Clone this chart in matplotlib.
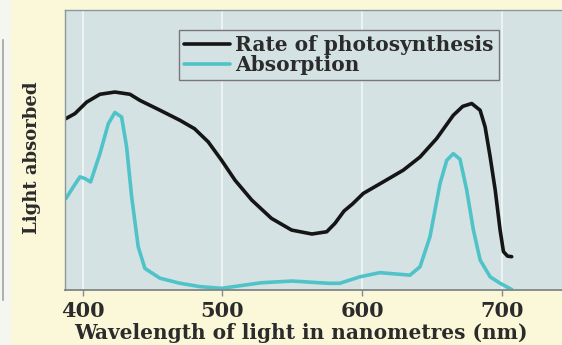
import matplotlib
matplotlib.use("Agg")
import matplotlib.pyplot as plt
from matplotlib.lines import Line2D
from matplotlib.patches import Rectangle

# Action spectrum of photosynthesis vs. absorption spectrum (relative units, 0-100)
wavelength_photo = [387.9, 394.4, 402.8, 412.3, 423.0, 433.8, 441.0, 455.3, 469.6, 480.0,
                    489.8, 499.4, 509.0, 521.0, 535.0, 549.5, 564.0, 574.6, 580.5, 587.0,
                    593.0, 600.8, 615.0, 629.4, 641.4, 653.3, 665.2, 672.0, 678.4, 684.4,
                    688.0, 691.6, 695.2, 698.7, 701.1, 704.0, 707.0]
rate_photo = [61.2, 63.0, 67.1, 69.9, 70.7, 69.9, 67.7, 64.2, 60.6, 57.6,
              52.9, 46.3, 39.2, 32.1, 25.6, 21.4, 20.0, 20.8, 23.8, 28.2,
              30.7, 34.5, 38.6, 42.8, 47.5, 54.1, 62.4, 65.6, 66.6, 64.2,
              58.2, 47.5, 35.7, 21.4, 13.7, 12.1, 11.9]

wavelength_abs = [388.0, 393.2, 398.0, 401.6, 405.6, 412.3, 418.3, 423.0, 427.8, 431.4,
                  435.0, 439.7, 444.5, 455.3, 469.6, 484.0, 499.4, 528.0, 550.0, 575.7,
                  584.0, 598.3, 612.6, 624.6, 634.2, 641.4, 648.5, 655.7, 660.5, 665.2,
                  670.0, 674.8, 679.6, 684.4, 691.6, 698.7, 707.0]
absorption = [32.7, 36.8, 40.4, 39.8, 38.6, 48.7, 59.4, 63.4, 61.8, 51.1,
              33.3, 15.4, 7.7, 4.2, 2.4, 1.2, 0.6, 2.6, 3.2, 2.4,
              2.4, 4.7, 6.2, 5.7, 5.3, 8.3, 19.0, 38.0, 46.3, 48.7,
              46.7, 35.7, 21.4, 10.7, 4.7, 2.4, 0.2]

xticks = [400, 500, 600, 700]
series_labels = ["Rate of photosynthesis", "Absorption"]
x_label = "Wavelength of light in nanometres (nm)"
y_label = "Light absorbed"

W, H = 562, 345
fig = plt.figure(figsize=(W / 100, H / 100), dpi=100)
fig.patch.set_facecolor("#fbf7d9")

# pale margin strip with the edge of the neighbouring panel frame
fig.patches.append(Rectangle((0, 0), 11 / W, 1, transform=fig.transFigure,
                             facecolor="#f6f6f1", edgecolor="none", zorder=0))
fig.lines.append(Line2D([3 / W, 3 / W], [1 - 40 / H, 1 - 300 / H], transform=fig.transFigure,
                        color="#9aa4a7", lw=1.2))

serif = "DejaVu Serif"
ax = fig.add_axes([65 / W, (H - 290) / H, (600 - 65) / W, 280 / H])
ax.set_facecolor("#d4e2e4")

black, = ax.plot(wavelength_photo, rate_photo, color="#151515", lw=2.6,
                 solid_joinstyle="round", solid_capstyle="round", label=series_labels[0])
cyan, = ax.plot(wavelength_abs, absorption, color="#4fc3c8", lw=2.6,
                solid_joinstyle="round", solid_capstyle="round", label=series_labels[1])

ax.set_xlim(387.3, 770.2)
ax.set_ylim(0, 100)
ax.set_xticks(xticks)
ax.set_yticks([])
ax.xaxis.grid(True, color="#eef5f5", lw=1.3)
ax.set_axisbelow(True)

for side in ("top", "left"):
    ax.spines[side].set_color("#8d9799")
    ax.spines[side].set_linewidth(1.0)
ax.spines["bottom"].set_color("#7e8587")
ax.spines["bottom"].set_linewidth(1.3)

ax.tick_params(axis="x", direction="out", length=4, width=1, color="#8a8a8a",
               pad=4, labelsize=15, labelcolor="#2b2b2b")
for lbl in ax.get_xticklabels():
    lbl.set_fontfamily(serif)
    lbl.set_fontweight("bold")

ax.set_xlabel(x_label, fontsize=14.5, fontfamily=serif, fontweight="bold",
              color="#2b2b2b")
ax.xaxis.set_label_coords(0.441, -0.118)
ax.set_ylabel(y_label, fontsize=13, fontfamily=serif, fontweight="bold",
              color="#2b2b2b", va="center")
ax.yaxis.set_label_coords(-0.0617, 0.471)

leg = ax.legend(handles=[black, cyan], loc="upper left", bbox_to_anchor=(0.213, 0.929),
                borderaxespad=0, fancybox=False, framealpha=1, facecolor="#d4e2e4",
                edgecolor="#777777", handlelength=2.3, handletextpad=0.25,
                labelspacing=0.0, borderpad=0.25,
                prop={"family": serif, "weight": "bold", "size": 14.5})
leg.get_frame().set_linewidth(1.0)
for t in leg.get_texts():
    t.set_color("#2b2b2b")

fig.savefig("out.png", dpi=100, facecolor=fig.get_facecolor())
